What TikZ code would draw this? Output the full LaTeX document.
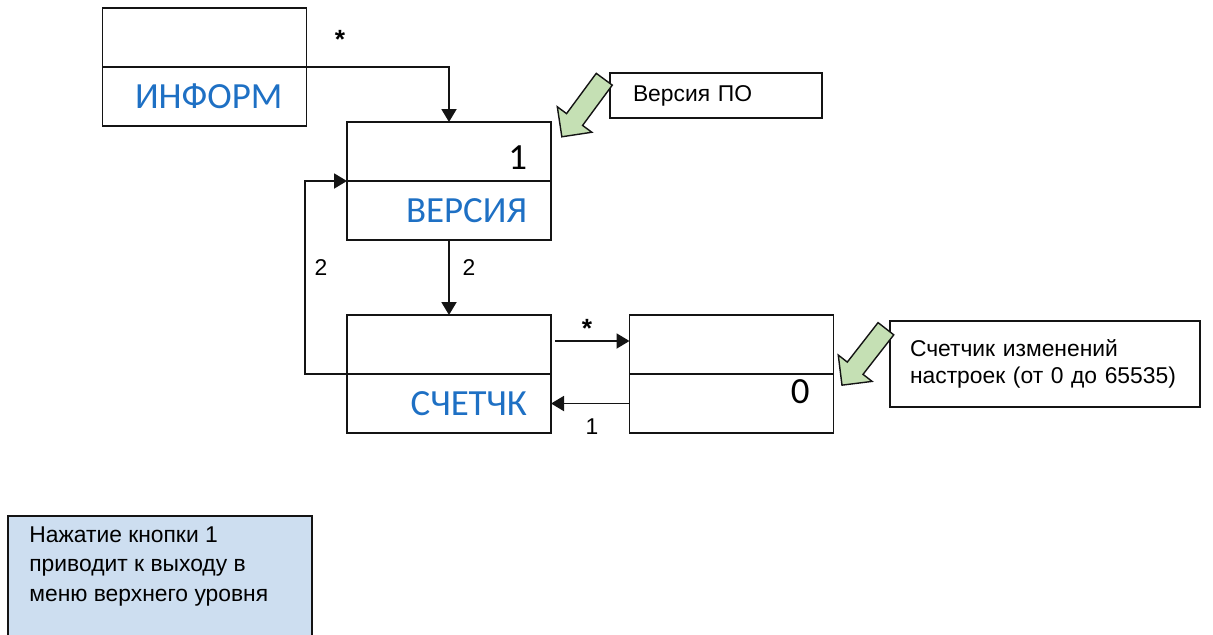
\documentclass[tikz,border=0pt]{standalone}
\usepackage{fontspec}
\setmainfont{Liberation Sans}
\newfontfamily\boxfont{Carlito}
\usetikzlibrary{arrows.meta,positioning,shapes.arrows}
\definecolor{menublue}{RGB}{30,112,196}
\definecolor{leaf}{RGB}{197,224,180}
\definecolor{pale}{RGB}{205,222,240}
\definecolor{ink}{RGB}{20,20,20}

\begin{document}
\begin{tikzpicture}[x=0.2mm,y=-0.2mm,
    part/.style={draw=ink,line width=1.1pt,minimum width=40.8mm,minimum height=11.8mm,
      text width=31.2mm,align=right,inner sep=0pt,outer sep=0pt,font=\boxfont\fontsize{21}{24}\selectfont},
    title/.style={part,text=menublue},
    link/.style={-{Triangle[length=2.6mm,width=3mm]},line width=1.1pt,draw=ink},
    mult/.style={font=\bfseries\fontsize{15}{15}\selectfont},
    num/.style={font=\fontsize{13}{15}\selectfont},
    callout/.style={draw=ink,line width=0.9pt,align=left,inner xsep=0pt,font=\fontsize{13}{15.5}\selectfont},
    pointer/.style={single arrow,draw=ink,fill=leaf,line width=0.8pt,minimum height=14.3mm,
      inner xsep=0pt,inner ysep=1.85mm,text height=0pt,text depth=0pt,single arrow head extend=2.3mm}]
  \useasboundingbox (0,0) rectangle (1213,634);
  % menu boxes
  \node[part] (inform-top) at (204.5,37.5) {};
  \node[title,below=0pt of inform-top] (inform) {ИНФОРМ};
  \node[part] (versia-top) at (449,151.5) {\smash{\raisebox{-3.5mm}{1}}};
  \node[title,below=0pt of versia-top] (versia) {ВЕРСИЯ};
  \node[part] (schk-top) at (449,344.5) {};
  \node[title,below=0pt of schk-top] (schk) {СЧЕТЧК};
  \node[part] (cnt-top) at (731.5,344.5) {};
  \node[part,below=0pt of cnt-top] (cnt) {\smash{0}};
  % links
  \coordinate (bend) at (305,374);
  \draw[link] (inform-top.south east) -| (versia-top.north);
  \draw[link] (versia.south) -- (schk-top.north);
  \draw[link] (schk-top.south west) -- (bend) |- (versia-top.south west);
  \draw[link] ([xshift=0.8mm,yshift=0.7mm]schk-top.east) -- ([yshift=0.7mm]cnt-top.west);
  \draw[link] (cnt.west) -- (schk.east);
  \node[mult] (star1) at (340,39) {*};
  \node[mult] (star2) at (587,328) {*};
  \node[num] (two1) at (469,268) {2};
  \node[num] (two2) at (321,268) {2};
  \node[num] (one) at (592,427) {1};
  % notes
  \node[callout,minimum width=42.4mm,minimum height=9mm,text width=33.2mm] (vernote) at (716,95.5) {Версия ПО};
  \node[callout,minimum width=62mm,minimum height=17.2mm,text width=54mm] (cntnote) at (1045,364)
    {Счетчик изменений\\настроек (от 0 до 65535)};
  \node[pointer,rotate=233.6] (verarrow) at (586,104) {};
  \node[pointer,rotate=232.1] (cntarrow) at (867,353) {};
  \node[draw=ink,fill=pale,line width=0.9pt,minimum width=60.8mm,minimum height=25mm,
    anchor=north west,inner sep=0pt,outer sep=0pt] (hintbox) at (8,516) {};
  \node[anchor=north west,align=left,inner sep=0pt,font=\fontsize{13}{16.8}\selectfont] (hint) at (29,526)
    {Нажатие кнопки 1\\приводит к выходу в\\меню верхнего уровня};
\end{tikzpicture}
\end{document}
